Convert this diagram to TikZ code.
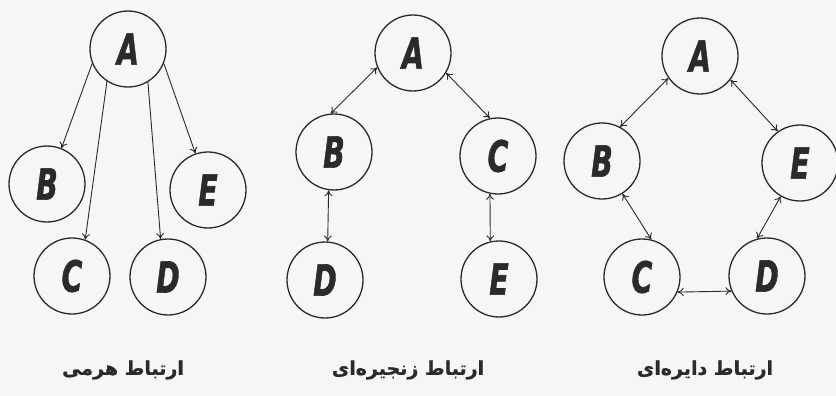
\documentclass[tikz,border=0pt]{standalone}
\usepackage{fontspec}
\usetikzlibrary{arrows.meta}
\TeXXeTstate=1
\newfontfamily\arabicfont[Script=Arabic,FakeBold=0.8]{DejaVu Sans Bold}
\newfontfamily\letterfont[FakeBold=1.5]{DejaVu Sans Bold Oblique}
\definecolor{ink}{HTML}{2A2A2A}
\definecolor{paper}{HTML}{F6F6F4}
\tikzset{
  vtx/.style={circle,draw=ink,line width=1.3pt,minimum size=76pt,inner sep=0pt,
    font=\letterfont\fontsize{43}{43}\selectfont,text=ink},
  link/.style={draw=ink,line width=0.9pt,-{To[length=6pt,width=8pt]}},
  blink/.style={draw=ink,line width=0.9pt,{To[length=6pt,width=8pt]}-{To[length=6pt,width=8pt]}},
  caption/.style={font=\arabicfont\fontsize{19}{19}\selectfont,text=ink}
}
\newcommand{\ltr}[1]{\scalebox{0.66}[1]{#1}}
\begin{document}
\begin{tikzpicture}[x=1pt,y=-1pt]
\fill[paper] (0,0) rectangle (836,396);
\useasboundingbox (0,0) rectangle (836,396);
% left: hierarchical
\node[vtx] (LA) at (128,49) {\ltr{A}};
\node[vtx] (LB) at (47,184) {\ltr{B}};
\node[vtx] (LE) at (208,190) {\ltr{E}};
\node[vtx] (LC) at (72,276) {\ltr{C}};
\node[vtx] (LD) at (168,277) {\ltr{D}};
\draw[link] (LA.202) -- (LB.68);
\draw[link] (LA.237) -- (LC.70);
\draw[link] (LA.301) -- (LD.101);
\draw[link] (LA.338) -- (LE.109);
\node[caption] (L1) at (123,370) {\beginR ارتباط هرمی\endR};
% middle: chain
\node[vtx] (MA) at (413,53) {\ltr{A}};
\node[vtx] (MB) at (334,152) {\ltr{B}};
\node[vtx] (MC) at (498,156) {\ltr{C}};
\node[vtx] (MD) at (325,280) {\ltr{D}};
\node[vtx] (ME) at (499,279) {\ltr{E}};
\draw[blink] (MA.202) -- (MB.95);
\draw[blink] (MA.329) -- (MC.102);
\draw[blink] (MB.262) -- (MD.86);
\draw[blink] (MC.258) -- (ME.103);
\node[caption] (L2) at (408,370) {\beginR ارتباط زنجیره‌ای\endR};
% right: circular
\node[vtx] (RA) at (700,56) {\ltr{A}};
\node[vtx] (RB) at (602,161) {\ltr{B}};
\node[vtx] (RE) at (800,163) {\ltr{E}};
\node[vtx] (RC) at (642,277) {\ltr{C}};
\node[vtx] (RD) at (767,276) {\ltr{D}};
\draw[blink] (RA.215) -- (RB.62);
\draw[blink] (RA.322) -- (RE.125);
\draw[blink] (RB.302) -- (RC.76);
\draw[blink] (RE.240) -- (RD.105);
\draw[blink] (RC.337) -- (RD.203);
\node[caption] (L3) at (705,370) {\beginR ارتباط دایره‌ای\endR};
\end{tikzpicture}
\end{document}
